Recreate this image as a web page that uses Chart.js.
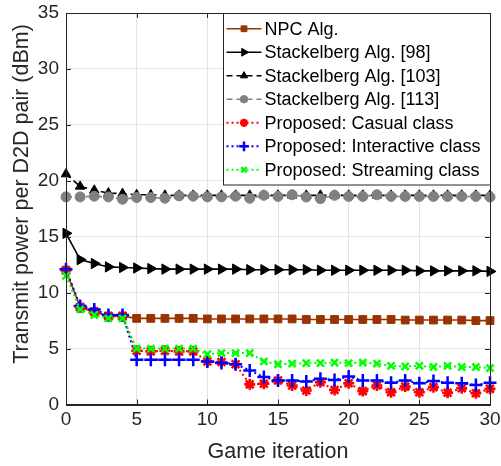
<!DOCTYPE html>
<html>
<head>
<meta charset="utf-8">
<script src="https://cdn.jsdelivr.net/npm/chart.js@4.4.1/dist/chart.umd.min.js"></script>
<style>
  html, body { margin: 0; padding: 0; background: #fff; }
  #wrap { width: 501px; height: 466px; }
</style>
</head>
<body>
<div id="wrap"><canvas id="powerChart" width="501" height="466"></canvas></div>
<script>
// Game iterations (x axis)
const iterations = [0, 1, 2, 3, 4, 5, 6, 7, 8, 9, 10, 11, 12, 13, 14, 15,
                    16, 17, 18, 19, 20, 21, 22, 23, 24, 25, 26, 27, 28, 29, 30];

// Transmit power per D2D pair (dBm)
const npcAlg = [12.0, 8.7, 8.3, 7.9, 7.9, 7.7, 7.7, 7.7, 7.7, 7.7, 7.65, 7.65, 7.65, 7.65, 7.65, 7.65,
                7.65, 7.6, 7.6, 7.6, 7.6, 7.6, 7.6, 7.6, 7.55, 7.55, 7.55, 7.55, 7.55, 7.5, 7.5];
const stackelberg98 = [15.3, 12.95, 12.6, 12.3, 12.25, 12.2, 12.15, 12.1, 12.1, 12.1, 12.1, 12.1, 12.1, 12.05, 12.05, 12.05,
                       12.05, 12.05, 12.0, 12.0, 12.0, 12.0, 12.0, 12.0, 12.0, 11.95, 11.95, 11.95, 11.95, 11.95, 11.9];
const stackelberg103 = [20.6, 19.5, 19.15, 18.9, 18.85, 18.75, 18.75, 18.7, 18.7, 18.7, 18.7, 18.7, 18.7, 18.7, 18.7, 18.7,
                        18.7, 18.7, 18.7, 18.7, 18.7, 18.7, 18.7, 18.7, 18.7, 18.7, 18.7, 18.7, 18.7, 18.7, 18.7];
const stackelberg113 = [18.56, 18.56, 18.62, 18.56, 18.35, 18.5, 18.5, 18.44, 18.65, 18.62, 18.56, 18.56, 18.62, 18.44, 18.7, 18.6,
                        18.75, 18.55, 18.4, 18.7, 18.6, 18.6, 18.75, 18.6, 18.6, 18.6, 18.6, 18.6, 18.6, 18.6, 18.55];
const casualClass = [12.0, 8.7, 8.3, 7.9, 7.9, 4.8, 4.75, 4.8, 4.75, 4.75, 3.85, 3.8, 3.6, 1.8, 1.85, 2.15,
                     1.7, 1.25, 2.0, 1.3, 1.9, 1.2, 1.7, 1.1, 1.6, 1.1, 1.55, 1.05, 1.45, 1.0, 1.4];
const interactiveClass = [12.1, 8.8, 8.5, 8.0, 8.0, 4.0, 4.0, 4.0, 4.0, 4.0, 3.85, 3.7, 3.6, 3.05, 2.45, 2.15,
                          2.15, 2.05, 2.3, 2.2, 2.5, 2.15, 2.15, 1.95, 2.15, 1.9, 2.1, 1.95, 1.9, 1.75, 1.95];
const streamingClass = [11.5, 8.5, 8.0, 7.7, 7.7, 5.0, 5.0, 5.0, 5.0, 5.0, 4.5, 4.6, 4.6, 4.6, 3.85, 3.6,
                        3.65, 3.7, 3.7, 3.75, 3.7, 3.75, 3.65, 3.45, 3.4, 3.45, 3.35, 3.45, 3.35, 3.35, 3.25];

const FONT = "'Liberation Sans', Arial, sans-serif";
const TEXT = '#262626';
const Y_TITLE = 'Transmit power per D2D pair (dBm)';

// Helper: pair iterations with values
function toPoints(values) {
    return iterations.map((x, i) => ({ x: x, y: values[i] }));
}

// Helper: dataset builder
function makeSeries(label, values, color, style, extra) {
    return Object.assign({
        label: label,
        data: toPoints(values),
        borderColor: color,
        backgroundColor: color,
        pointBackgroundColor: color,
        pointBorderColor: color,
        borderWidth: 1.6,
        pointStyle: style,
        pointRadius: 4.5,
        pointHoverRadius: 4.5,
        pointBorderWidth: 1,
        tension: 0,
        fill: false,
        clip: false
    }, extra || {});
}

const datasets = [
    makeSeries('NPC Alg.', npcAlg, '#993300', 'rect', { pointRadius: 5.5, order: 6 }),
    makeSeries('Stackelberg Alg. [98]', stackelberg98, '#000000', 'triangle', { pointRotation: 90, pointRadius: 6, order: 5 }),
    makeSeries('Stackelberg Alg. [103]', stackelberg103, '#000000', 'triangle', { borderDash: [6, 4], pointRadius: 5.5, order: 4 }),
    makeSeries('Stackelberg Alg. [113]', stackelberg113, '#808080', 'circle', { borderDash: [6, 4], pointRadius: 5, order: 3 }),
    makeSeries('Proposed: Casual class', casualClass, '#ff0000', 'star', { borderDash: [2, 3], borderWidth: 2, pointRadius: 5.5, pointBorderWidth: 2.6, order: 2 }),
    makeSeries('Proposed: Interactive class', interactiveClass, '#0000ff', 'cross', { borderDash: [2, 3], borderWidth: 2, pointRadius: 6.5, pointBorderWidth: 2.5, order: 1 }),
    makeSeries('Proposed: Streaming class', streamingClass, '#00ff00', 'crossRot', { borderDash: [2, 3], borderWidth: 2, pointRadius: 5, pointBorderWidth: 2.5, order: 0 })
];

// Plugin: axes box, inward ticks, y title and legend in the top-right corner
const matlabFrame = {
    id: 'matlabFrame',
    afterDraw(chart) {
        const ctx = chart.ctx;
        const area = chart.chartArea;
        const xs = chart.scales.x;
        const ys = chart.scales.y;
        ctx.save();
        ctx.strokeStyle = TEXT;
        ctx.lineWidth = 1;
        // inward ticks
        ctx.beginPath();
        xs.ticks.forEach(t => {
            const px = Math.round(xs.getPixelForValue(t.value)) + 0.5;
            ctx.moveTo(px, area.bottom); ctx.lineTo(px, area.bottom - 5);
            ctx.moveTo(px, area.top); ctx.lineTo(px, area.top + 5);
        });
        ys.ticks.forEach(t => {
            const py = Math.round(ys.getPixelForValue(t.value)) + 0.5;
            ctx.moveTo(area.left, py); ctx.lineTo(area.left + 5, py);
            ctx.moveTo(area.right, py); ctx.lineTo(area.right - 5, py);
        });
        ctx.stroke();
        ctx.strokeRect(Math.round(area.left) + 0.5, Math.round(area.top) + 0.5,
                       Math.round(area.right - area.left), Math.round(area.bottom - area.top));

        // y axis title
        ctx.save();
        ctx.translate(22, 194);
        ctx.rotate(-Math.PI / 2);
        ctx.font = '21.5px ' + FONT;
        ctx.fillStyle = TEXT;
        ctx.textAlign = 'center';
        ctx.textBaseline = 'middle';
        ctx.fillText(Y_TITLE, 0, 0);
        ctx.restore();

        // legend box
        const boxW = 267, rowH = 23.5, padY = 3.5;
        const boxH = rowH * datasets.length + padY * 2;
        const bx = Math.round(area.right) - boxW + 0.5;
        const by = Math.round(area.top) + 0.5;
        ctx.fillStyle = '#ffffff';
        ctx.fillRect(bx, by, boxW, boxH);
        ctx.strokeRect(bx, by, boxW, boxH);
        ctx.font = '18px ' + FONT;
        ctx.textBaseline = 'middle';
        ctx.textAlign = 'left';
        datasets.forEach((ds, i) => {
            const cy = by + padY + rowH * (i + 0.5);
            const x0 = bx + 3, x1 = bx + 38, xm = (x0 + x1) / 2;
            ctx.save();
            ctx.strokeStyle = ds.borderColor;
            ctx.lineWidth = ds.borderWidth;
            ctx.setLineDash(ds.borderDash || []);
            ctx.beginPath();
            ctx.moveTo(x0, cy); ctx.lineTo(x1, cy);
            ctx.stroke();
            ctx.setLineDash([]);
            ctx.fillStyle = ds.pointBackgroundColor;
            ctx.strokeStyle = ds.pointBorderColor;
            ctx.lineWidth = ds.pointBorderWidth;
            Chart.helpers.drawPoint(ctx, {
                pointStyle: ds.pointStyle,
                rotation: ds.pointRotation || 0,
                radius: ds.pointRadius * 0.75,
                borderWidth: ds.pointBorderWidth
            }, xm, cy);
            ctx.restore();
            ctx.fillStyle = '#000000';
            ctx.fillText(ds.label, bx + 41, cy + 1);
        });
        ctx.restore();
    }
};

new Chart(document.getElementById('powerChart'), {
    type: 'line',
    data: { datasets: datasets },
    options: {
        responsive: false,
        animation: false,
        layout: { padding: { top: 13, right: 11, left: 0, bottom: 0 } },
        plugins: {
            legend: { display: false },
            tooltip: { enabled: false }
        },
        scales: {
            x: {
                type: 'linear',
                min: 0,
                max: 30,
                ticks: { stepSize: 5, color: TEXT, font: { family: FONT, size: 19 }, padding: 4 },
                grid: { color: '#e3e3e3', drawTicks: false },
                border: { color: TEXT, width: 1 },
                title: { display: true, text: 'Game iteration', color: TEXT,
                         font: { family: FONT, size: 21.5 }, padding: { top: 0, bottom: 1 } },
                afterFit: scale => { scale.height = 61.5; scale.paddingLeft = 0; scale.paddingRight = 0; }
            },
            y: {
                type: 'linear',
                min: 0,
                max: 35,
                ticks: { stepSize: 5, color: TEXT, font: { family: FONT, size: 19 }, padding: 7 },
                grid: { color: '#e3e3e3', drawTicks: false },
                border: { color: TEXT, width: 1 },
                afterFit: scale => { scale.width = 66; scale.paddingTop = 0; scale.paddingBottom = 0; }
            }
        }
    },
    plugins: [matlabFrame]
});
</script>
</body>
</html>
